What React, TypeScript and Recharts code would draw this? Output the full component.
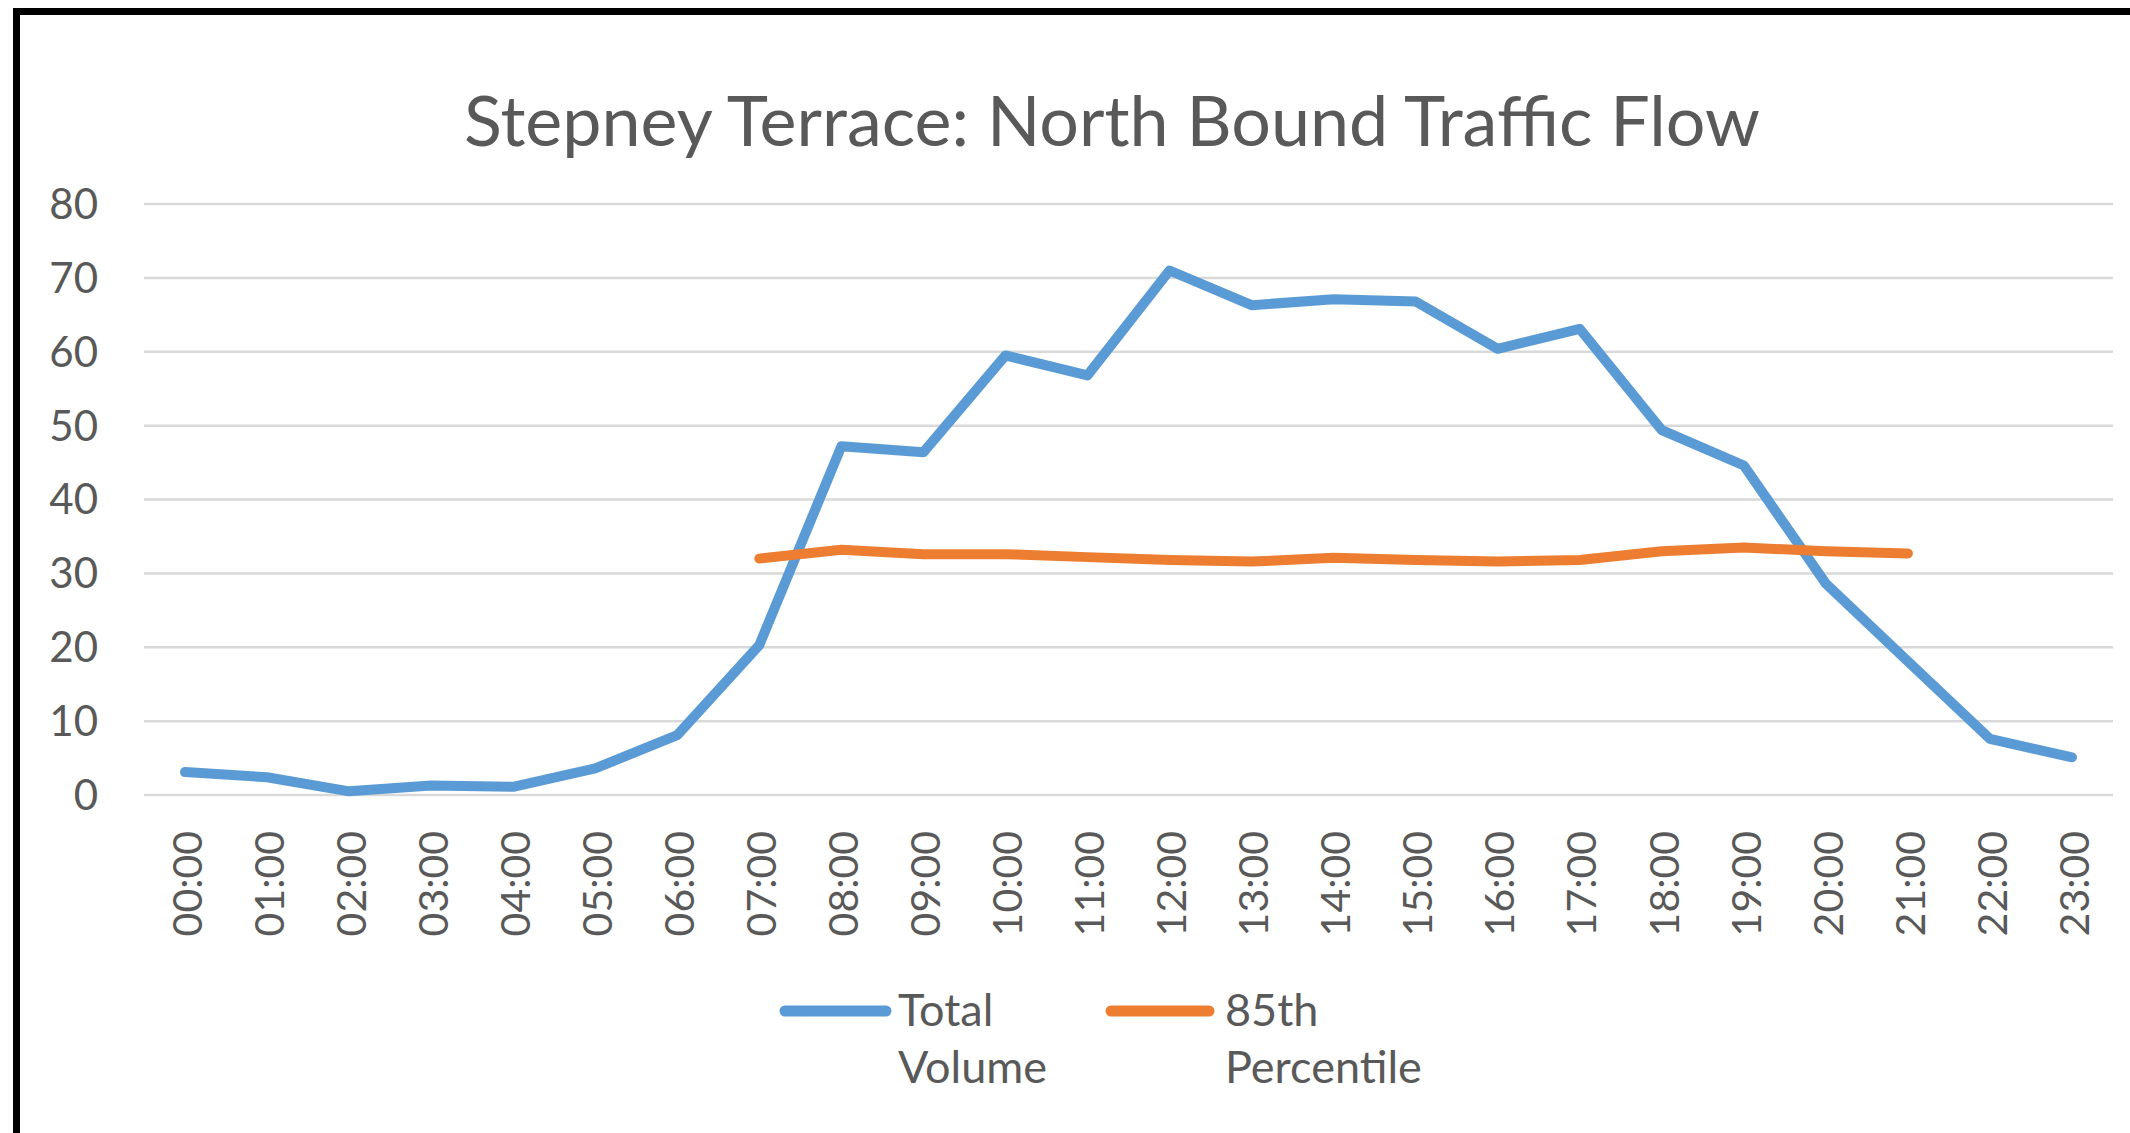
import React from "react";
import { LineChart, Line, XAxis, YAxis, CartesianGrid } from "recharts";

const hours = [
  "00:00", "01:00", "02:00", "03:00", "04:00", "05:00", "06:00", "07:00",
  "08:00", "09:00", "10:00", "11:00", "12:00", "13:00", "14:00", "15:00",
  "16:00", "17:00", "18:00", "19:00", "20:00", "21:00", "22:00", "23:00",
];

const totalVolume = [
  3.1, 2.4, 0.5, 1.3, 1.1, 3.6, 8.1, 20.3, 47.2, 46.4, 59.5, 56.8,
  71.0, 66.3, 67.1, 66.8, 60.4, 63.1, 49.4, 44.6, 28.6, 18.1, 7.6, 5.1,
];

const percentile85: (number | null)[] = [
  null, null, null, null, null, null, null, 32.0, 33.2, 32.6, 32.6, 32.2,
  31.8, 31.6, 32.1, 31.8, 31.6, 31.8, 33.0, 33.5, 33.0, 32.7, null, null,
];

const yTicks = [0, 10, 20, 30, 40, 50, 60, 70, 80];

const seriesNames = ["Total Volume", "85th Percentile"];
const seriesColors = ["#5B9BD5", "#ED7D31"];
const titleText = "Stepney Terrace: North Bound Traffic Flow";

const FONT = "Lato, 'Open Sans', sans-serif";
const TEXT = "#595959";

const data = hours.map((h, i) => ({
  hour: h,
  total: totalVolume[i],
  p85: percentile85[i],
}));

const XTick = (props: any) => {
  const { x, y, payload } = props;
  return (
    <text
      x={x + 2}
      y={y}
      transform={`rotate(-90, ${x + 2}, ${y})`}
      textAnchor="end"
      dy="0.36em"
      fontSize={41}
      fill={TEXT}
      fontFamily={FONT}
    >
      {payload.value}
    </text>
  );
};

export default function App() {
  return (
    <div style={{ position: "absolute", left: 0, top: 0, width: 2130, height: 1133, background: "#fff", overflow: "hidden" }}>
      <div
        style={{
          position: "absolute",
          left: 13,
          top: 8,
          width: 2200,
          height: 1200,
          borderTop: "7px solid #000",
          borderLeft: "7px solid #000",
          boxSizing: "border-box",
        }}
      />
      <div style={{ position: "absolute", left: 0, top: 0 }}>
        <LineChart
          width={2130}
          height={1133}
          data={data}
          margin={{ top: 204, right: 17, bottom: 208, left: 84 }}
        >
          <CartesianGrid horizontal vertical={false} stroke="#d9d9d9" strokeWidth={2.5} />
          <XAxis
            dataKey="hour"
            axisLine={false}
            tickLine={false}
            tickSize={0}
            tickMargin={36}
            height={130}
            interval={0}
            padding={{ left: 41, right: 41 }}
            tick={<XTick />}
          />
          <YAxis
            domain={[0, 80]}
            ticks={yTicks}
            axisLine={false}
            tickLine={false}
            tickSize={0}
            tickMargin={46}
            width={60}
            tick={{ fontSize: 42, fill: TEXT, fontFamily: FONT }}
          />
          <Line
            dataKey="total"
            name={seriesNames[0]}
            stroke={seriesColors[0]}
            strokeWidth={10}
            dot={false}
            activeDot={false}
            strokeLinecap="round"
            strokeLinejoin="round"
            isAnimationActive={false}
          />
          <Line
            dataKey="p85"
            name={seriesNames[1]}
            stroke={seriesColors[1]}
            strokeWidth={10}
            dot={false}
            activeDot={false}
            strokeLinecap="round"
            strokeLinejoin="round"
            connectNulls={false}
            isAnimationActive={false}
          />
        </LineChart>
      </div>
      <svg width={2130} height={1133} style={{ position: "absolute", left: 0, top: 0, pointerEvents: "none" }}>
        <text x={1112} y={146} textAnchor="middle" fontSize={70} fill={TEXT} fontFamily={FONT}>
          {titleText}
        </text>
        <line x1={785} y1={1011} x2={886} y2={1011} stroke={seriesColors[0]} strokeWidth={11} strokeLinecap="round" />
        <text x={898} y={1026} fontSize={45} fill={TEXT} fontFamily={FONT}>Total</text>
        <text x={898} y={1083} fontSize={45} fill={TEXT} fontFamily={FONT}>Volume</text>
        <line x1={1111} y1={1011} x2={1209} y2={1011} stroke={seriesColors[1]} strokeWidth={11} strokeLinecap="round" />
        <text x={1225} y={1026} fontSize={45} fill={TEXT} fontFamily={FONT}>85th</text>
        <text x={1225} y={1083} fontSize={45} fill={TEXT} fontFamily={FONT}>Percentile</text>
      </svg>
    </div>
  );
}
